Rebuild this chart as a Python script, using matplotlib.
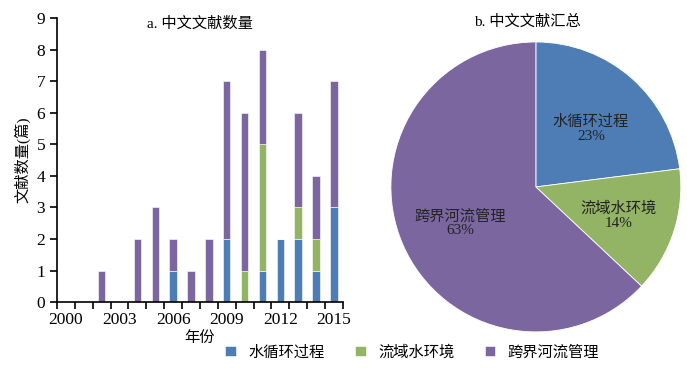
import numpy as np
import matplotlib.pyplot as plt

plt.rcParams['font.family'] = ['Liberation Serif', 'Noto Sans CJK SC']

years = [2000, 2001, 2002, 2003, 2004, 2005, 2006, 2007,
         2008, 2009, 2010, 2011, 2012, 2013, 2014, 2015]
water_cycle = [0, 0, 0, 0, 0, 0, 1, 0, 0, 2, 0, 1, 2, 2, 1, 3]
basin_env = [0, 0, 0, 0, 0, 0, 0, 0, 0, 0, 1, 4, 0, 1, 1, 0]
transboundary = [0, 0, 1, 0, 2, 3, 1, 1, 2, 5, 5, 3, 0, 3, 2, 4]
categories = ['水循环过程', '流域水环境', '跨界河流管理']
pie_pct = [23, 14, 63]
colors = ['#4e7db5', '#93b465', '#7b66a0']

fig = plt.figure(figsize=(6.87, 3.68), dpi=100)

# a) stacked bars
ax = fig.add_axes([0.083, 0.179, 0.416, 0.772])
x = np.arange(len(years))
wc = np.array(water_cycle)
be = np.array(basin_env)
tb = np.array(transboundary)
b1 = ax.bar(x, wc, width=0.42, color=colors[0], edgecolor='white', linewidth=0.4)
b2 = ax.bar(x, be, width=0.42, bottom=wc, color=colors[1], edgecolor='white', linewidth=0.4)
b3 = ax.bar(x, tb, width=0.42, bottom=wc + be, color=colors[2], edgecolor='white', linewidth=0.4)

ax.set_xlim(-0.5, len(years) - 0.5)
ax.set_ylim(0, 9)
ax.set_yticks(range(10))
ax.set_xticks(x[::3])
ax.set_xticklabels([str(y) for y in years[::3]])
ax.set_xticks(np.arange(-0.5, len(years) + 0.5, 1), minor=True)
ax.tick_params(axis='x', which='major', length=0, labelsize=12.5, pad=7)
ax.tick_params(axis='x', which='minor', length=5, width=1.2, direction='out')
ax.tick_params(axis='y', length=5, width=1.2, direction='out', labelsize=12.5)
for s in ['top', 'right']:
    ax.spines[s].set_visible(False)
for s in ['left', 'bottom']:
    ax.spines[s].set_linewidth(1.2)
ax.set_xlabel('年份', fontsize=11, labelpad=2)
ax.set_ylabel('文献数量(篇)', fontsize=11, labelpad=4)
ax.text(0.5, 1.005, 'a. 中文文献数量', transform=ax.transAxes,
        ha='center', va='top', fontsize=11)

# b) pie
pax = fig.add_axes([0.569, 0.098, 0.422, 0.788])
wedges, _ = pax.pie(pie_pct, colors=colors, startangle=90, counterclock=False,
                    wedgeprops=dict(edgecolor='white', linewidth=0.6))
pax.set_xlim(-1, 1)
pax.set_ylim(-1, 1)
pax.set_aspect('equal')
label_pos = [(0.38, 0.40), (0.57, -0.2), (-0.52, -0.25)]
for name, p, (lx, ly) in zip(categories, pie_pct, label_pos):
    pax.text(lx, ly, f'{name}\n{p}%', ha='center', va='center',
             fontsize=11, linespacing=1.1, color='#222222')
fig.text(0.767, 0.94, 'b. 中文文献汇总', ha='center', va='center', fontsize=11)

fig.legend([b1, b2, b3], categories, loc='center', bbox_to_anchor=(0.60, 0.043),
           ncol=3, frameon=False, fontsize=11, handlelength=0.7, handleheight=0.7,
           columnspacing=2.0, handletextpad=0.8)

fig.savefig('out.png', dpi=100)
